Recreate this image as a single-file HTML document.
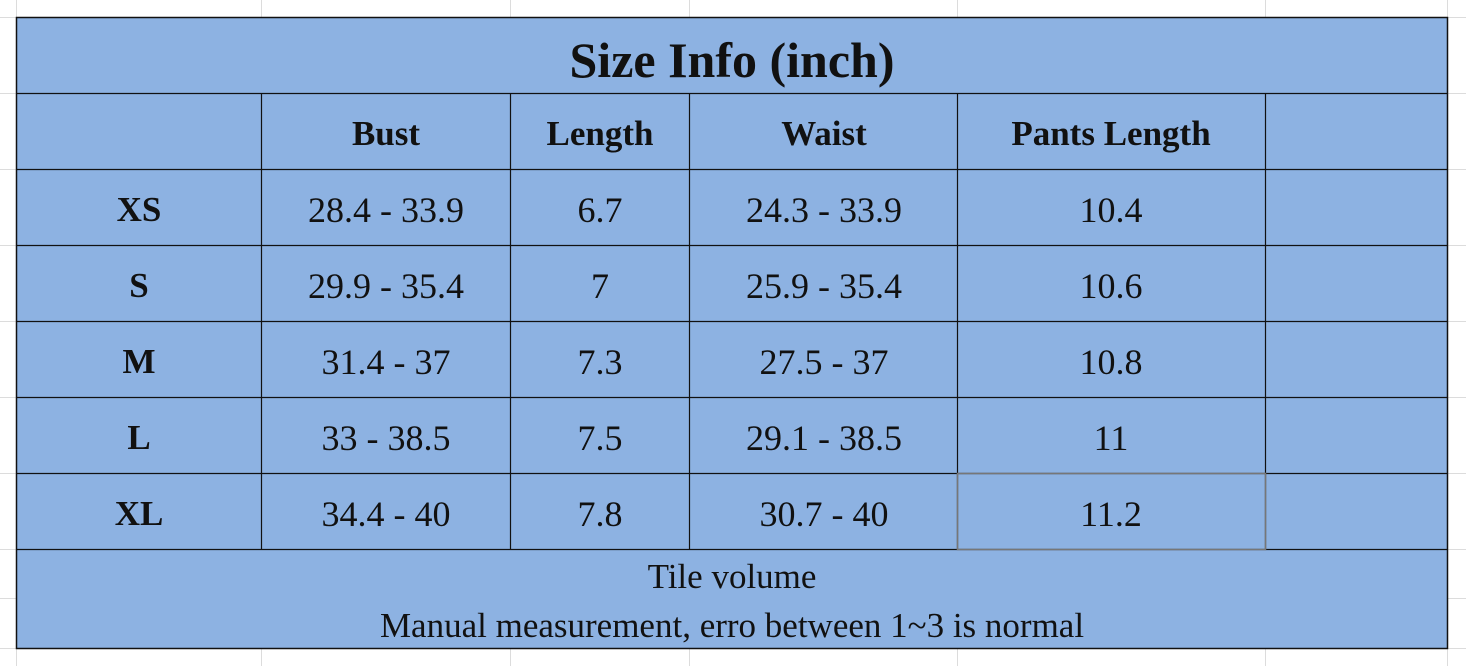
<!DOCTYPE html>
<html><head><style>body{margin:0;background:#fff}</style></head><body>
<svg width="1466" height="666" xmlns="http://www.w3.org/2000/svg" font-family="Liberation Serif, serif">
<g stroke="#dcdcdc" stroke-width="1">
<line x1="16.5" y1="0" x2="16.5" y2="666"/><line x1="261.5" y1="0" x2="261.5" y2="666"/><line x1="510.5" y1="0" x2="510.5" y2="666"/><line x1="689.5" y1="0" x2="689.5" y2="666"/><line x1="957.5" y1="0" x2="957.5" y2="666"/><line x1="1265.5" y1="0" x2="1265.5" y2="666"/><line x1="1447.5" y1="0" x2="1447.5" y2="666"/>
<line x1="0" y1="17.5" x2="1466" y2="17.5"/><line x1="0" y1="93.5" x2="1466" y2="93.5"/><line x1="0" y1="169.5" x2="1466" y2="169.5"/><line x1="0" y1="245.5" x2="1466" y2="245.5"/><line x1="0" y1="321.5" x2="1466" y2="321.5"/><line x1="0" y1="397.5" x2="1466" y2="397.5"/><line x1="0" y1="473.5" x2="1466" y2="473.5"/><line x1="0" y1="549.5" x2="1466" y2="549.5"/><line x1="0" y1="598.5" x2="1466" y2="598.5"/><line x1="0" y1="648.5" x2="1466" y2="648.5"/>
</g>
<rect x="16.5" y="17.5" width="1431" height="631" fill="#8db2e2" stroke="#111" stroke-width="1.5"/>
<g stroke="#111" stroke-width="1.2">
<line x1="16" y1="93.5" x2="1447" y2="93.5"/><line x1="16" y1="169.5" x2="1447" y2="169.5"/><line x1="16" y1="245.5" x2="1447" y2="245.5"/><line x1="16" y1="321.5" x2="1447" y2="321.5"/><line x1="16" y1="397.5" x2="1447" y2="397.5"/><line x1="16" y1="473.5" x2="1447" y2="473.5"/><line x1="16" y1="549.5" x2="1447" y2="549.5"/>
<line x1="261.5" y1="93" x2="261.5" y2="549"/><line x1="510.5" y1="93" x2="510.5" y2="549"/><line x1="689.5" y1="93" x2="689.5" y2="549"/><line x1="957.5" y1="93" x2="957.5" y2="549"/><line x1="1265.5" y1="93" x2="1265.5" y2="549"/>
</g>
<rect x="957.5" y="473.5" width="308" height="76" fill="none" stroke="#777" stroke-width="1.5"/>
<text x="732" y="77" font-size="50" font-weight="bold" text-anchor="middle" fill="#111">Size Info (inch)</text>
<g font-size="35" font-weight="bold" text-anchor="middle" fill="#111">
<text x="386" y="145">Bust</text><text x="600" y="145">Length</text><text x="824" y="145">Waist</text><text x="1111" y="145">Pants Length</text>
<text x="139" y="221">XS</text><text x="139" y="297">S</text><text x="139" y="373">M</text><text x="139" y="449">L</text><text x="139" y="525">XL</text>
</g>
<g font-size="36" text-anchor="middle" fill="#111">
<text x="386" y="222">28.4 - 33.9</text><text x="600" y="222">6.7</text><text x="824" y="222">24.3 - 33.9</text><text x="1111" y="222">10.4</text>
<text x="386" y="298">29.9 - 35.4</text><text x="600" y="298">7</text><text x="824" y="298">25.9 - 35.4</text><text x="1111" y="298">10.6</text>
<text x="386" y="374">31.4 - 37</text><text x="600" y="374">7.3</text><text x="824" y="374">27.5 - 37</text><text x="1111" y="374">10.8</text>
<text x="386" y="450">33 - 38.5</text><text x="600" y="450">7.5</text><text x="824" y="450">29.1 - 38.5</text><text x="1111" y="450">11</text>
<text x="386" y="526">34.4 - 40</text><text x="600" y="526">7.8</text><text x="824" y="526">30.7 - 40</text><text x="1111" y="526">11.2</text>
<text x="732" y="588" font-size="35">Tile volume</text>
<text x="732" y="637" font-size="35">Manual measurement, erro between 1~3 is normal</text>
</g>
</svg>
</body></html>
